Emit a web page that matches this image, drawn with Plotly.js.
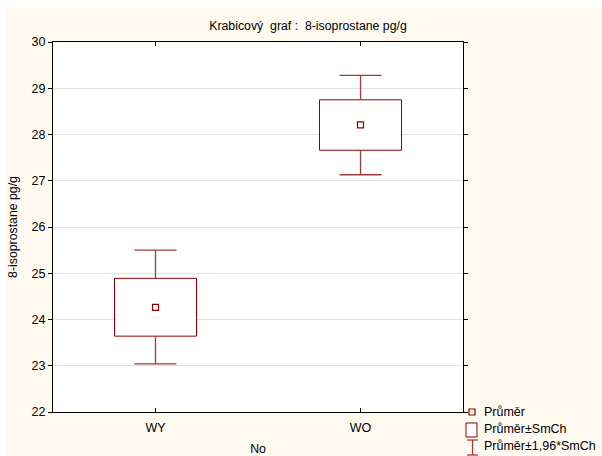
<!DOCTYPE html>
<html>
<head>
<meta charset="utf-8">
<script src="https://cdn.plot.ly/plotly-3.0.1.min.js"></script>
<style>
html,body{margin:0;padding:0;background:#ffffff;}
#chart{position:absolute;left:6px;top:8px;width:596px;height:448px;}
</style>
</head>
<body>
<div id="chart"></div>
<script>
// Data
const categories = ['WY', 'WO'];
const means = [24.26, 28.21];
const boxLow = [23.64, 27.66];      // Průměr - SmCh
const boxHigh = [24.89, 28.75];     // Průměr + SmCh
const whiskLow = [23.04, 27.13];    // Průměr - 1,96*SmCh
const whiskHigh = [25.50, 29.28];   // Průměr + 1,96*SmCh
const yTicks = [22, 23, 24, 25, 26, 27, 28, 29, 30];

const RED = '#8b0000';
const WRED = '#a33a3a';
const FONT = 'Liberation Sans, Arial, sans-serif';

const boxTrace = {
  type: 'bar', x: categories,
  base: boxLow,
  y: boxHigh.map((h, i) => h - boxLow[i]),
  width: 0.4,
  marker: {color: '#ffffff', line: {color: RED, width: 1}},
  showlegend: false, hoverinfo: 'skip'
};
// whisker stems: from box edge to whisker end
const stemX = [], stemY = [];
categories.forEach((c, i) => {
  stemX.push(c, c, null, c, c, null);
  stemY.push(boxHigh[i], whiskHigh[i], null, boxLow[i], whiskLow[i], null);
});
const stems = {
  type: 'scatter', mode: 'lines', x: stemX, y: stemY, connectgaps: false,
  line: {color: WRED, width: 1.3}, showlegend: false, hoverinfo: 'skip'
};
// whisker caps (zero-length error bars give just the cross-bar)
const caps = {
  type: 'scatter', mode: 'markers',
  x: categories.concat(categories), y: whiskHigh.concat(whiskLow),
  marker: {size: 1, opacity: 0},
  error_y: {type: 'constant', value: 0, width: 21, thickness: 1.3, color: WRED},
  showlegend: false, hoverinfo: 'skip'
};
const meanTrace = {
  type: 'scatter', mode: 'markers', x: categories, y: means,
  marker: {symbol: 'square-open', size: 6, color: RED, line: {width: 1.2, color: RED}},
  showlegend: false
};

// legend drawn as shapes + text (paper coordinates)
const shapes = [
  {type: 'rect', xref: 'paper', yref: 'paper', x0: 1.0146, x1: 1.0293, y0: 0.0081, y1: -0.0081,
   line: {color: RED, width: 1.2}, fillcolor: 'rgba(0,0,0,0)'},
  {type: 'rect', xref: 'paper', yref: 'paper', x0: 1.0073, x1: 1.0341, y0: -0.0297, y1: -0.0676,
   line: {color: RED, width: 1}, fillcolor: '#ffffff'},
  {type: 'line', xref: 'paper', yref: 'paper', x0: 1.0232, x1: 1.0232, y0: -0.0757, y1: -0.1162,
   line: {color: WRED, width: 1.3}},
  {type: 'line', xref: 'paper', yref: 'paper', x0: 1.0098, x1: 1.0366, y0: -0.0757, y1: -0.0757,
   line: {color: WRED, width: 1.3}},
  {type: 'line', xref: 'paper', yref: 'paper', x0: 1.0098, x1: 1.0366, y0: -0.1162, y1: -0.1162,
   line: {color: WRED, width: 1.3}}
];
const legendLabels = ['Průměr', 'Průměr±SmCh', 'Průměr±1,96*SmCh'];
const legendY = [0, -0.0459, -0.0919];
const annotations = legendLabels.map((t, i) => ({
  xref: 'paper', yref: 'paper', x: 1.0463, y: legendY[i], xanchor: 'left', yanchor: 'middle',
  text: t, showarrow: false, font: {family: FONT, size: 12.5, color: '#000'}
}));

const layout = {
  width: 596, height: 448,
  paper_bgcolor: '#fffaf0', plot_bgcolor: '#ffffff',
  margin: {l: 47, r: 139, t: 34, b: 44},
  font: {family: FONT, size: 12, color: '#000'},
  title: {text: 'Krabicový\u00a0\u00a0graf :\u00a0\u00a08-isoprostane pg/g',
    xref: 'paper', x: 0.622, xanchor: 'center', yref: 'container', y: 0.96, yanchor: 'middle',
    font: {family: FONT, size: 12.3, color: '#000'}},
  xaxis: {type: 'category', range: [-0.5, 1.5], showgrid: false, zeroline: false,
    showline: true, linecolor: '#000', linewidth: 1, mirror: 'ticks',
    ticks: 'inside', ticklen: 4, tickcolor: '#000', ticklabelstandoff: 4,
    tickfont: {family: FONT, size: 12.5},
    title: {text: 'No', font: {family: FONT, size: 12.3}, standoff: 14}},
  yaxis: {range: [22, 30], tickvals: yTicks, showgrid: true, gridcolor: '#e2e2e2', zeroline: false,
    showline: true, linecolor: '#000', linewidth: 1, mirror: 'ticks',
    ticks: 'outside', ticklen: 4, tickcolor: '#000',
    tickfont: {family: FONT, size: 12.5},
    title: {text: '8-isoprostane pg/g', font: {family: FONT, size: 12.3}, standoff: 13}},
  bargap: 0,
  shapes: shapes,
  annotations: annotations
};

Plotly.newPlot('chart', [boxTrace, stems, caps, meanTrace], layout, {displayModeBar: false, staticPlot: true});
</script>
</body>
</html>
